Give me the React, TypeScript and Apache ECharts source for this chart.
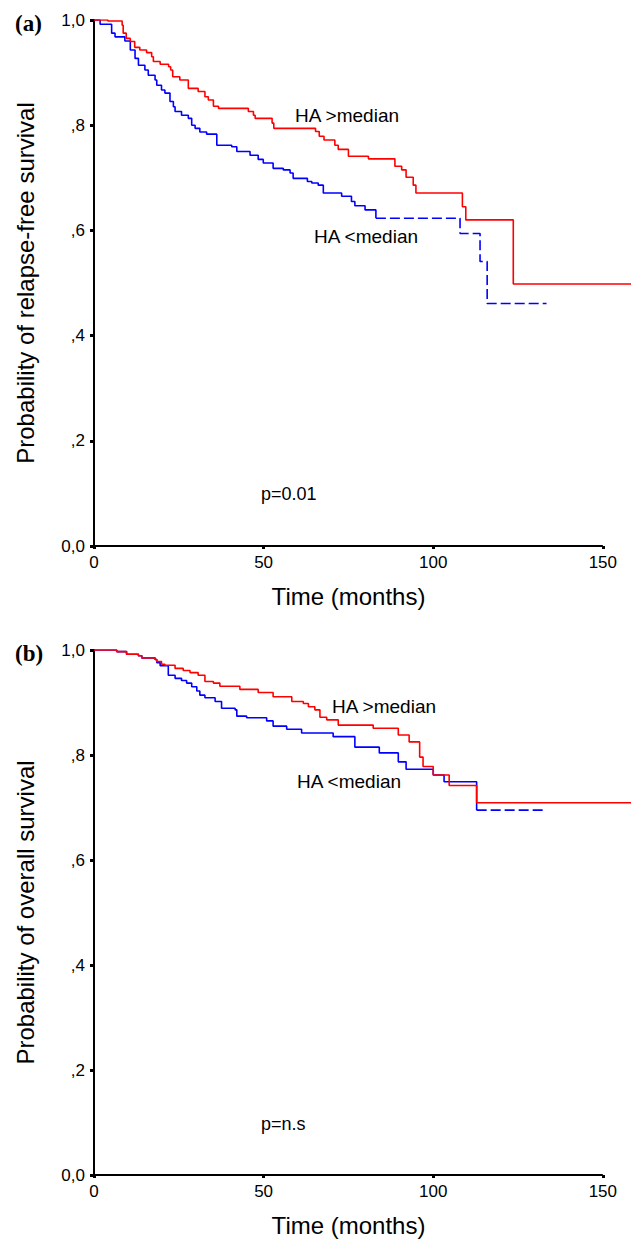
import React, { useEffect, useRef } from 'react';
import * as echarts from 'echarts';

// ---------- data ----------
const xTicks = [0, 50, 100, 150];
const yTickLabels = ['0,0', ',2', ',4', ',6', ',8', '1,0'];
const xMax = 158.3;

const panelLetters = ['(a)', '(b)'];
const yTitles = ['Probability of relapse-free survival', 'Probability of overall survival'];
const xTitle = 'Time (months)';
const groupLabels = ['HA >median', 'HA <median'];
const pValues = ['p=0.01', 'p=n.s'];

// (a) relapse-free survival, HA > median
const rfsHigh = [
  [0, 1.0], [4.1, 0.998], [8.3, 0.99], [8.6, 0.975], [9.5, 0.965], [10.7, 0.959], [12.0, 0.948],
  [13.5, 0.943], [15.5, 0.938], [17.0, 0.93], [17.5, 0.921], [19.5, 0.916], [22.0, 0.911],
  [22.6, 0.905], [23.2, 0.892], [25.3, 0.886], [27.8, 0.87], [30.7, 0.864], [32.7, 0.854],
  [33.7, 0.848], [35.2, 0.836], [36.7, 0.832], [45.5, 0.826], [47.0, 0.819], [47.5, 0.813],
  [52.5, 0.804], [53.0, 0.794], [65.3, 0.788], [66.4, 0.779], [67.8, 0.772], [71.0, 0.762],
  [72.0, 0.754], [75.0, 0.741], [80.9, 0.736], [88.7, 0.722], [90.7, 0.715], [92.0, 0.701],
  [94.1, 0.686], [94.9, 0.671], [108.6, 0.645], [109.6, 0.62], [123.6, 0.498], [158.3, 0.498],
];
// (a) relapse-free survival, HA < median
const rfsLow = [
  [0, 1.0], [1.8, 0.992], [5.2, 0.975], [6.2, 0.968], [9.1, 0.96], [10.7, 0.943], [12.1, 0.927],
  [13.1, 0.914], [15.0, 0.905], [16.0, 0.895], [18.0, 0.886], [18.5, 0.876], [19.9, 0.867],
  [20.9, 0.861], [22.4, 0.845], [23.4, 0.835], [23.9, 0.826], [25.8, 0.819], [27.8, 0.813],
  [28.8, 0.8], [29.8, 0.794], [31.2, 0.787], [33.2, 0.783], [36.2, 0.762], [40.6, 0.759],
  [42.1, 0.75], [46.0, 0.743], [48.4, 0.735], [49.9, 0.728], [52.8, 0.718], [55.8, 0.715],
  [57.8, 0.709], [58.7, 0.699], [62.9, 0.693], [64.2, 0.69], [66.1, 0.686], [67.6, 0.671],
  [73.0, 0.665], [75.9, 0.655], [76.9, 0.647], [79.9, 0.639], [83.1, 0.623],
];
const rfsLowTail = [
  [83.1, 0.623], [107.9, 0.594], [113.8, 0.541], [115.9, 0.461], [133.4, 0.461],
];

// (b) overall survival, HA > median
const osHigh = [
  [0, 1.0], [6.7, 0.997], [9.6, 0.992], [13.1, 0.989], [14.1, 0.985], [18.0, 0.982], [18.5, 0.978],
  [19.9, 0.973], [20.9, 0.971], [23.9, 0.965], [26.3, 0.961], [28.3, 0.957], [30.7, 0.952],
  [32.7, 0.94], [35.2, 0.937], [37.1, 0.931], [43.0, 0.925], [48.4, 0.919], [52.8, 0.911],
  [58.3, 0.902], [61.7, 0.898], [63.2, 0.892], [65.1, 0.886], [66.6, 0.872], [68.6, 0.867],
  [72.0, 0.857], [82.3, 0.851], [89.7, 0.838], [92.9, 0.825], [96.0, 0.796], [97.0, 0.778],
  [100.0, 0.762], [104.7, 0.742], [112.8, 0.709], [158.3, 0.709],
];
// (b) overall survival, HA < median
const osLow = [
  [0, 1.0], [6.7, 0.997], [9.6, 0.992], [13.1, 0.989], [14.1, 0.985], [18.0, 0.982], [18.5, 0.976],
  [19.5, 0.97], [21.9, 0.952], [23.9, 0.946], [25.8, 0.942], [27.3, 0.937], [28.8, 0.93],
  [30.3, 0.922], [31.2, 0.914], [32.7, 0.909], [35.7, 0.902], [37.6, 0.889], [41.6, 0.886],
  [42.1, 0.874], [45.0, 0.871], [50.9, 0.865], [52.8, 0.855], [56.8, 0.849], [61.2, 0.842],
  [70.5, 0.835], [76.9, 0.815], [84.1, 0.804], [89.7, 0.787], [92.0, 0.773], [100.0, 0.762],
  [103.2, 0.749], [112.8, 0.695],
];
const osLowTail = [
  [112.8, 0.695], [133.4, 0.695],
];

const panels = [
  { high: rfsHigh, low: rfsLow, lowTail: rfsLowTail },
  { high: osHigh, low: osLow, lowTail: osLowTail },
];

// ---------- layout ----------
const FONT = '"Liberation Sans", Arial, Helvetica, sans-serif';
const RED = '#ff0000';
const BLUE = '#0000ff';
const gridTops = [20, 650];
const gridHeights = [526, 525];
const panelOffset = 630;

export default function App() {
  const ref = useRef<HTMLDivElement>(null);

  useEffect(() => {
    document.body.style.margin = '0';
    if (!ref.current) return;
    const chart = echarts.init(ref.current, null, { renderer: 'svg' });

    const grids = panels.map((_, i) => ({
      left: 94,
      top: gridTops[i],
      width: 537,
      height: gridHeights[i],
    }));

    const xAxes = panels.map((_, i) => ({
      type: 'value',
      gridIndex: i,
      min: 0,
      max: xMax,
      axisLine: { show: false },
      axisTick: {
        show: true,
        customValues: xTicks,
        length: 3,
        lineStyle: { color: '#000', width: 3 },
      },
      axisLabel: {
        customValues: xTicks,
        color: '#000',
        fontSize: 17,
        fontFamily: FONT,
        margin: 8,
      },
      splitLine: { show: false },
      name: xTitle,
      nameLocation: 'middle',
      nameGap: 38,
      nameTextStyle: { color: '#000', fontSize: 24, fontFamily: FONT, padding: [0, 28, 0, 0] },
    }));

    const yAxes = panels.map((_, i) => ({
      type: 'value',
      gridIndex: i,
      min: 0,
      max: 1,
      interval: 0.2,
      axisLine: { show: true, lineStyle: { color: '#000', width: 2 } },
      axisTick: { show: true, length: 4, lineStyle: { color: '#000', width: 3 } },
      axisLabel: {
        color: '#000',
        fontSize: 17,
        fontFamily: FONT,
        margin: 9,
        formatter: (v: number) => yTickLabels[Math.round(v / 0.2)],
      },
      splitLine: { show: false },
      name: yTitles[i],
      nameLocation: 'middle',
      nameGap: 57,
      nameRotate: 90,
      nameTextStyle: { color: '#000', fontSize: 24, fontFamily: FONT },
    }));

    const series: any[] = [];
    panels.forEach((p, i) => {
      series.push({
        type: 'line',
        name: 'axis',
        xAxisIndex: i,
        yAxisIndex: i,
        data: [[xTicks[0], 0], [xTicks[xTicks.length - 1], 0]],
        symbol: 'none',
        silent: true,
        lineStyle: { color: '#000', width: 2 },
        z: 1,
      });
      series.push({
        type: 'line',
        name: groupLabels[1],
        xAxisIndex: i,
        yAxisIndex: i,
        data: p.low,
        step: 'end',
        symbol: 'none',
        lineStyle: { color: BLUE, width: 1.6 },
        z: 2,
      });
      series.push({
        type: 'line',
        name: groupLabels[1] + ' (tail)',
        xAxisIndex: i,
        yAxisIndex: i,
        data: p.lowTail,
        step: 'end',
        symbol: 'none',
        lineStyle: { color: BLUE, width: 1.6, type: [10, 4] },
        z: 2,
      });
      series.push({
        type: 'line',
        name: groupLabels[0],
        xAxisIndex: i,
        yAxisIndex: i,
        data: p.high,
        step: 'end',
        symbol: 'none',
        lineStyle: { color: RED, width: 1.6 },
        z: 3,
      });
    });

    const txt = (text: string, x: number, y: number, size: number, extra: any = {}) => ({
      type: 'text',
      x,
      y,
      style: {
        text,
        fill: '#000',
        fontSize: size,
        fontFamily: FONT,
        verticalAlign: 'middle',
        align: 'left',
        ...extra,
      },
    });

    const graphic: any[] = [];
    panels.forEach((_, i) => {
      const o = i * panelOffset;
      graphic.push(
        txt(panelLetters[i], 15, 23 + o, 23, {
          fontFamily: '"Liberation Serif", "Times New Roman", serif',
          fontWeight: 'bold',
        })
      );
    });
    graphic.push(txt(groupLabels[0], 295, 115, 19));
    graphic.push(txt(groupLabels[1], 314, 236, 19));
    graphic.push(txt(pValues[0], 261, 494, 18));
    graphic.push(txt(groupLabels[0], 332, 706, 19));
    graphic.push(txt(groupLabels[1], 297, 781, 19));
    graphic.push(txt(pValues[1], 261, 1124, 18));

    chart.setOption({
      animation: false,
      backgroundColor: '#fff',
      textStyle: { fontFamily: FONT },
      grid: grids,
      xAxis: xAxes,
      yAxis: yAxes,
      series,
      graphic,
    });

    return () => chart.dispose();
  }, []);

  return <div ref={ref} style={{ width: 635, height: 1240 }} />;
}
